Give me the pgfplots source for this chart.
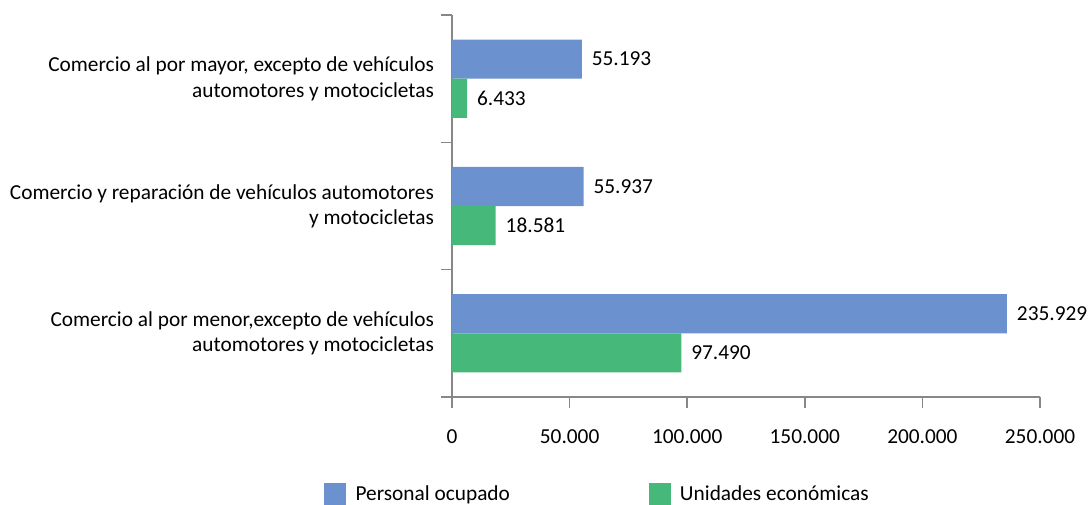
\documentclass[border=0pt]{standalone}
\usepackage{fontspec}
\setmainfont{Carlito}
\usepackage{pgfplots}
\pgfplotsset{compat=1.18}
\definecolor{cblue}{HTML}{6B91CE}
\definecolor{cgreen}{HTML}{46B97A}
\definecolor{axgray}{HTML}{878787}
\begin{document}
\begin{tikzpicture}
\begin{axis}[
  at={(0,0)}, anchor=south west,
  scale only axis, width=441pt, height=286.5pt,
  xbar,
  xmin=0, xmax=250000,
  ymin=-0.5, ymax=2.5,
  axis lines*=left,
  axis line style={axgray, line width=1.2pt},
  tick style={axgray, line width=1.2pt},
  tick align=outside,
  major tick length=8pt,
  xtick={0,50000,100000,150000,200000,250000},
  scaled x ticks=false,
  /pgf/number format/.cd, 1000 sep={.}, fixed, precision=0, assume math mode=true,
  /pgfplots/.cd,
  ytick={-0.5,0.5,1.5,2.5},
  yticklabels={},
  extra y ticks={0,1,2},
  extra y tick labels={{Comercio al por menor,excepto de vehículos\\automotores y motocicletas},{Comercio y reparación de vehículos automotores\\y motocicletas},{Comercio al por mayor, excepto de vehículos\\automotores y motocicletas}},
  extra y tick style={major tick length=0pt, yticklabel style={align=right, xshift=-10pt}},
  ticklabel style={font=\fontsize{16}{19}\selectfont, text=black},
  xticklabel style={yshift=-13pt},
  bar width=0.307,
  nodes near coords,
  every node near coord/.append style={font=\fontsize{16}{19}\selectfont, text=black, xshift=4pt},
  legend columns=2,
  legend style={draw=none, at={(axis description cs:-0.2177,-0.254)}, anchor=west, inner sep=0pt,
    font=\fontsize{16}{19}\selectfont,
    /tikz/every odd column/.append style={column sep=5pt},
    /tikz/every even column/.append style={column sep=102pt}},
  legend image code/.code={\fill[#1] (0pt,-8.25pt) rectangle (16.5pt,8.25pt);},
]
\addplot[fill=cblue, draw=none, bar shift=0.1535] coordinates {(235929,0) (55937,1) (55193,2)};
\addplot[fill=cgreen, draw=none, bar shift=-0.1535] coordinates {(97490,0) (18581,1) (6433,2)};
\legend{Personal ocupado, Unidades económicas}
\end{axis}
\pgfresetboundingbox
\path[use as bounding box] (-339pt,-80.25pt) rectangle (479.25pt,297.75pt);
\end{tikzpicture}
\end{document}
